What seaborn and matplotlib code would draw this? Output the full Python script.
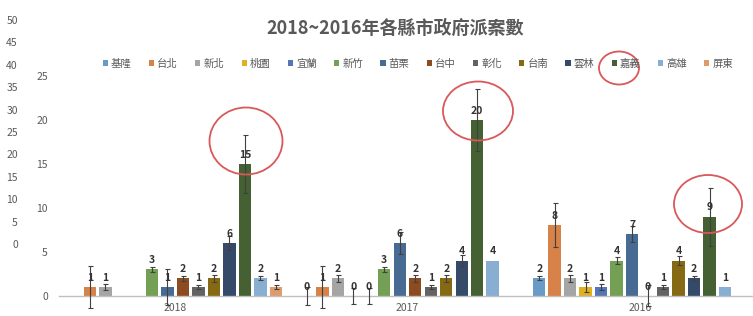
import numpy as np
import pandas as pd
import seaborn as sns
import matplotlib.pyplot as plt
from matplotlib.patches import Ellipse
from matplotlib.container import BarContainer

years = ["2018", "2017", "2016"]
counties = ["基隆", "台北", "新北", "桃園", "宜蘭", "新竹", "苗栗",
            "台中", "彰化", "台南", "雲林", "嘉義", "高雄", "屏東"]
colors = ["#5b9bd5", "#ed7d31", "#a5a5a5", "#ffc000", "#4472c4", "#70ad47", "#3b6aa0",
          "#9e480e", "#636363", "#997300", "#2c4770", "#43682b", "#7cafdd", "#f1975a"]

nan = np.nan
cases_2018 = [nan, 1, 1, nan, nan, 3, 1, 2, 1, 2, 6, 15, 2, 1]
cases_2017 = [0, 1, 2, 0, 0, 3, 6, 2, 1, 2, 4, 20, 4, nan]
cases_2016 = [2, 8, 2, 1, 1, 4, 7, 0, 1, 4, 2, 9, 1, nan]

err_2018 = [nan, 2.4, 0.3, nan, nan, 0.3, 2.0, 0.3, 0.2, 0.4, 0.8, 3.3, 0.2, 0.2]
err_2017 = [1.0, 2.4, 0.4, 0.9, 0.9, 0.3, 1.2, 0.4, 0.2, 0.4, 0.6, 3.5, 0.0, nan]
err_2016 = [0.2, 2.5, 0.4, 0.6, 0.3, 0.4, 0.9, 1.2, 0.2, 0.5, 0.3, 3.3, 0.0, nan]

left_ticks = list(range(0, 55, 5))

cases = {"2018": cases_2018, "2017": cases_2017, "2016": cases_2016}
errs = {"2018": err_2018, "2017": err_2017, "2016": err_2016}

rows = []
for y in years:
    for c, v in zip(counties, cases[y]):
        rows.append([y, c, v])
df = pd.DataFrame(rows, columns=["year", "county", "count"]).dropna()

sns.set_style("white")
plt.rcParams['font.family'] = ['Noto Sans CJK TC', 'DejaVu Sans']

W, H = 753, 316
fig = plt.figure(figsize=(W / 100, H / 100), dpi=100)
ax = fig.add_axes([59 / W, 0.0, 697 / W, 1 - 76 / H])

group_w = 14 / 15
sns.barplot(data=df, x="year", y="count", hue="county", order=years,
            hue_order=counties, palette=colors, width=group_w, gap=0.2,
            errorbar=None, linewidth=0, ax=ax)

handles, labels = ax.get_legend_handles_labels()
ax.get_legend().remove()

slot = group_w / len(counties)
bar_sets = [c for c in ax.containers if isinstance(c, BarContainer)]
for cont in bar_sets:
    for bar in cont:
        h = bar.get_height()
        if np.isnan(h):
            continue
        x = bar.get_x() + bar.get_width() / 2
        yi = int(round(x))
        ci = int(round((x - yi + group_w / 2) / slot - 0.5))
        e = errs[years[yi]][ci]
        if e > 0:
            ax.errorbar(x, h, yerr=e, color="#404040", lw=0.8,
                        capsize=1.8, capthick=0.8, zorder=3)
        ax.annotate(f"{int(h)}", (x, h), xytext=(0, 3), textcoords="offset points",
                    ha="center", va="bottom", fontsize=7.5, color="#333333",
                    fontweight="bold", zorder=4)

ax.set_ylim(-2.3, 25)
ax.set_xlim(-0.5, 2.5)
ax.set_yticks(range(0, 30, 5))
ax.set_xlabel("")
ax.set_ylabel("")
for s in ["top", "right", "left"]:
    ax.spines[s].set_visible(False)
ax.spines["bottom"].set_position(("data", 0))
ax.spines["bottom"].set_color("#bfbfbf")
ax.spines["bottom"].set_linewidth(1)
ax.tick_params(axis="y", length=0, pad=8, labelsize=7.5, labelcolor="#595959")
ax.tick_params(axis="x", length=0, pad=5, labelsize=7.5, labelcolor="#595959")
ax.patch.set_visible(False)

# stray second scale on the far left
ax2 = fig.add_axes([22 / W, (H - 244) / H, 0.005, 224 / H])
ax2.set_ylim(0, 50)
ax2.set_yticks(left_ticks)
ax2.set_xticks([])
for s in ax2.spines.values():
    s.set_visible(False)
ax2.patch.set_visible(False)
ax2.tick_params(axis="y", length=0, pad=3, labelsize=7.5, labelcolor="#595959")

fig.legend(handles, labels, loc="center", bbox_to_anchor=(418 / W, 1 - 64 / H),
           ncol=14, frameon=False, fontsize=7.5, handlelength=0.5, handleheight=0.5,
           handletextpad=0.3, columnspacing=1.65, labelcolor="#595959")

fig.text(395 / W, 1 - 28 / H, "2018~2016年各縣市政府派案數", ha="center", va="center",
         fontsize=13, fontweight="bold", color="#595959")

# red highlight rings (pixel centre x, y, width, height)
rings = [(246, 141, 73, 67), (478, 111, 70, 59), (708, 204, 68, 58), (619, 68, 40, 33)]
for cx, cy, w, h in rings:
    fig.patches.append(Ellipse((cx / W, 1 - cy / H), w / W, h / H, fill=False,
                               edgecolor="#d9585a", lw=1.3, transform=fig.transFigure))

fig.savefig("out.png", dpi=100)
